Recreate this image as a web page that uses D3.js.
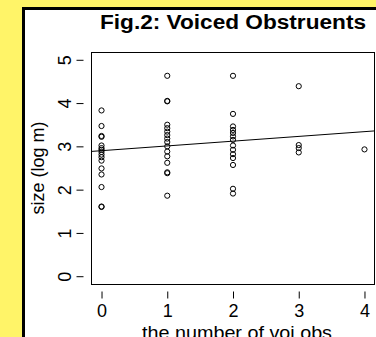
<!DOCTYPE html>
<html>
<head>
<meta charset="utf-8">
<script src="https://cdn.jsdelivr.net/npm/d3@7"></script>
<style>
  body { margin: 0; background: #fff468; }
  svg { display: block; font-family: Arial, "Liberation Sans", sans-serif; }
</style>
</head>
<body>
<svg id="chart" width="376" height="337"></svg>
<script>
let width = 376
let height = 337

// voiced obstruent counts (x) and log size (y)
const xVals = [
    0,0,0,0,0,0,0,0,0,0,0,0,0,0,0,0,
    1,1,1,1,1,1,1,1,1,1,1,1,1,1,1,1,
    2,2,2,2,2,2,2,2,2,2,2,2,2,2,
    3,3,3,3,
    4
];
const yVals = [
    3.83,3.47,3.24,3.22,3.02,2.96,2.92,2.87,2.81,2.75,2.67,2.49,2.35,2.06,1.61,1.60,
    4.63,4.05,4.04,3.50,3.42,3.34,3.26,3.18,3.10,3.00,2.88,2.77,2.62,2.40,2.38,1.86,
    4.63,3.75,3.46,3.38,3.31,3.23,3.15,3.02,2.92,2.82,2.73,2.57,2.02,1.91,
    4.39,3.03,2.96,2.86,
    2.93
];

// fitted line (intercept, slope)
const fitIntercept = 2.90;
const fitSlope = 0.11;

const xTicks = [0, 1, 2, 3, 4];
const yTicks = [0, 1, 2, 3, 4, 5];

const titleText = "Fig.2: Voiced Obstruents";
const xLabel = "the number of voi.obs";
const yLabel = "size (log m)";

const plotLeft = 91, plotRight = 375, plotTop = 52, plotBottom = 284;

const svg = d3.select("#chart");

// white panel with black frame
svg.append("rect")
    .attr("x", 23.5).attr("y", 8.5)
    .attr("width", width).attr("height", height)
    .attr("fill", "#fff")
    .attr("stroke", "#000")
    .attr("stroke-width", 3);

const x = d3.scaleLinear().domain([-0.16, 4.16]).range([plotLeft, plotRight]);
const y = d3.scaleLinear().domain([-0.18, 5.18]).range([plotBottom, plotTop]);

// plot box
svg.append("rect")
    .attr("x", plotLeft + 0.5).attr("y", plotTop + 0.5)
    .attr("width", plotRight - plotLeft - 1).attr("height", plotBottom - plotTop)
    .attr("fill", "none")
    .attr("stroke", "#000")
    .attr("stroke-width", 1);

// axes
const xAxis = svg.append("g")
    .attr("transform", `translate(0,${plotBottom + 7.5})`)
    .call(d3.axisBottom(x).tickValues(xTicks).tickSize(7).tickFormat(d3.format("d")));
xAxis.select(".domain").remove();
xAxis.selectAll("text").attr("font-size", 18).attr("font-family", "Arial, Liberation Sans").attr("dy", "0.85em").attr("fill", "#000");

const yAxis = svg.append("g")
    .attr("transform", `translate(${plotLeft - 7.5},0)`)
    .call(d3.axisLeft(y).tickValues(yTicks).tickSize(7).tickFormat(d3.format("d")));
yAxis.select(".domain").remove();
yAxis.selectAll("text")
    .attr("font-size", 18)
    .attr("font-family", "Arial, Liberation Sans")
    .attr("fill", "#000")
    .attr("x", null)
    .attr("text-anchor", "middle")
    .attr("transform", "translate(-19,0) rotate(-90)")
    .attr("dy", "0.35em");

// regression line
svg.append("line")
    .attr("x1", x(-0.16)).attr("y1", y(fitIntercept + fitSlope * -0.16))
    .attr("x2", x(4.16)).attr("y2", y(fitIntercept + fitSlope * 4.16))
    .attr("stroke", "#000")
    .attr("stroke-width", 1);

// points
svg.append("g")
    .selectAll("circle")
    .data(d3.zip(xVals, yVals))
    .join("circle")
    .attr("cx", d => x(d[0]))
    .attr("cy", d => y(d[1]))
    .attr("r", 2.6)
    .attr("fill", "none")
    .attr("stroke", "#000")
    .attr("stroke-width", 1);

// labels
svg.append("text")
    .attr("x", 233).attr("y", 29)
    .attr("text-anchor", "middle")
    .attr("font-size", 20)
    .attr("font-weight", "bold")
    .attr("textLength", 266)
    .attr("lengthAdjust", "spacingAndGlyphs")
    .text(titleText);

svg.append("text")
    .attr("x", 237).attr("y", 339)
    .attr("text-anchor", "middle")
    .attr("font-size", 19)
    .attr("textLength", 190)
    .attr("lengthAdjust", "spacingAndGlyphs")
    .text(xLabel);

svg.append("text")
    .attr("transform", `translate(44,${(plotTop + plotBottom) / 2}) rotate(-90)`)
    .attr("text-anchor", "middle")
    .attr("font-size", 18)
    .text(yLabel);
</script>
</body>
</html>
